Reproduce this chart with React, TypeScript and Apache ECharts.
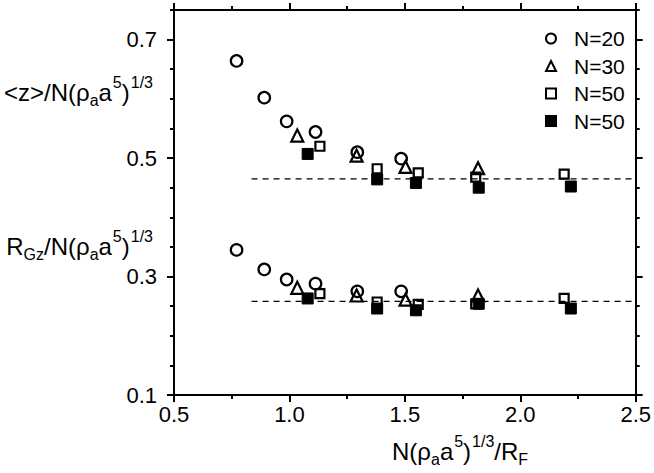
import React, { useEffect, useRef } from "react";
import * as echarts from "echarts";

// ---- data ----
const seriesLabels = ["N=20", "N=30", "N=50", "N=50"];

const xN20 = [0.771, 0.891, 0.988, 1.113, 1.294, 1.484];
const zN20 = [0.664, 0.602, 0.562, 0.544, 0.51, 0.499];
const rN20 = [0.345, 0.312, 0.295, 0.288, 0.275, 0.275];

const xN30 = [1.034, 1.291, 1.503, 1.817];
const zN30 = [0.538, 0.504, 0.485, 0.483];
const rN30 = [0.281, 0.268, 0.261, 0.268];

const xN50open = [1.132, 1.38, 1.558, 1.807, 2.19];
const zN50open = [0.52, 0.482, 0.475, 0.468, 0.473];
const rN50open = [0.271, 0.257, 0.253, 0.254, 0.263];

const xN50fill = [1.079, 1.38, 1.548, 1.82, 2.219];
const zN50fill = [0.507, 0.464, 0.458, 0.45, 0.452];
const rN50fill = [0.263, 0.246, 0.243, 0.254, 0.246];

const plateauLevels = [0.465, 0.258];
const plateauStart = 0.836;

const xMin = 0.5;
const xMax = 2.5;
const xMinorStep = 0.25;
const xMajorTicks = [0.5, 1.0, 1.5, 2.0, 2.5];

const yMin = 0.1;
const yMax = 0.75;
const yMinorStep = 0.05;
const yMajorTicks = [0.1, 0.3, 0.5, 0.7];

const FONT = "'Liberation Sans', Arial, Helvetica, sans-serif";

function pairs(xs: number[], ys: number[]) {
  return xs.map((x, i) => [x, ys[i]]);
}

export default function App() {
  const ref = useRef<HTMLDivElement>(null);

  useEffect(() => {
    if (!ref.current) return;
    const chart = echarts.init(ref.current, null, { renderer: "svg" });

    const axisLine = { show: true, onZero: false, lineStyle: { color: "#000", width: 2 } };
    const tickLine = { color: "#000", width: 2 };
    const labelStyle = { color: "#000", fontSize: 22, fontFamily: FONT };

    const xMinorAxis = (pos: string) => ({
      type: "value",
      position: pos,
      min: xMin,
      max: xMax,
      interval: xMinorStep,
      axisLine,
      axisTick: { show: true, inside: false, length: 4, lineStyle: tickLine },
      axisLabel: { show: false },
      splitLine: { show: false },
    });
    const xMajorAxis = (pos: string, labels: boolean) => ({
      type: "value",
      position: pos,
      min: xMin,
      max: xMax,
      interval: xMinorStep,
      axisLine,
      axisTick: { show: true, inside: false, length: 7, customValues: xMajorTicks, lineStyle: tickLine },
      axisLabel: {
        show: labels,
        customValues: xMajorTicks,
        formatter: (v: number) => v.toFixed(1),
        ...labelStyle,
        margin: 8,
      },
      splitLine: { show: false },
    });
    const yMinorAxis = (pos: string) => ({
      type: "value",
      position: pos,
      min: yMin,
      max: yMax,
      interval: yMinorStep,
      axisLine,
      axisTick: { show: true, inside: false, length: 4, lineStyle: tickLine },
      axisLabel: { show: false },
      splitLine: { show: false },
    });
    const yMajorAxis = (pos: string, labels: boolean) => ({
      type: "value",
      position: pos,
      min: yMin,
      max: yMax,
      interval: yMinorStep,
      axisLine,
      axisTick: { show: true, inside: false, length: 7, customValues: yMajorTicks, lineStyle: tickLine },
      axisLabel: {
        show: labels,
        customValues: yMajorTicks,
        formatter: (v: number) => v.toFixed(1),
        ...labelStyle,
        margin: 17,
      },
      splitLine: { show: false },
    });

    const openStyle = { color: "transparent", borderColor: "#000", borderWidth: 2.2, opacity: 1 };

    const dashSeries = plateauLevels.map((lvl, i) => ({
      type: "line",
      name: "plateau" + i,
      data: [
        [plateauStart, lvl],
        [xMax, lvl],
      ],
      symbol: "none",
      silent: true,
      z: 1,
      lineStyle: { color: "#000", width: 1.3, type: [6, 5], opacity: 1 },
    }));

    const rich = {
      n: { fontSize: 24, fontFamily: FONT, color: "#000" },
      sup: { fontSize: 16, fontFamily: FONT, color: "#000", padding: [0, 0, 19, 1] },
      sub: { fontSize: 16, fontFamily: FONT, color: "#000", padding: [16, 0, 0, 0] },
    };

    chart.setOption({
      animation: false,
      backgroundColor: "#fff",
      grid: { left: 174, right: 18, top: 10, bottom: 78, containLabel: false },
      xAxis: [xMinorAxis("bottom"), xMajorAxis("bottom", true), xMinorAxis("top"), xMajorAxis("top", false)],
      yAxis: [yMinorAxis("left"), yMajorAxis("left", true), yMinorAxis("right"), yMajorAxis("right", false)],
      legend: {
        data: ["s0", "s1", "s2", "s3"],
        orient: "vertical",
        left: 540,
        top: 23,
        itemWidth: 10,
        itemHeight: 10,
        itemGap: 6.5,
        formatter: (name: string) => seriesLabels[Number(name.slice(1))],
        textStyle: { fontSize: 21, fontFamily: FONT, color: "#000", lineHeight: 21, padding: [0, 0, 0, 13] },
        selectedMode: false,
      },
      series: [
        ...dashSeries,
        {
          type: "scatter",
          name: "s0",
          symbol: "circle",
          symbolSize: 11.5,
          itemStyle: openStyle,
          z: 3,
          data: [...pairs(xN20, zN20), ...pairs(xN20, rN20)],
        },
        {
          type: "scatter",
          name: "s1",
          symbol: "triangle",
          symbolSize: 12,
          itemStyle: openStyle,
          z: 3,
          data: [...pairs(xN30, zN30), ...pairs(xN30, rN30)],
        },
        {
          type: "scatter",
          name: "s2",
          symbol: "rect",
          symbolSize: 9,
          itemStyle: openStyle,
          z: 3,
          data: [...pairs(xN50open, zN50open), ...pairs(xN50open, rN50open)],
        },
        {
          type: "scatter",
          name: "s3",
          symbol: "rect",
          symbolSize: 11,
          itemStyle: { color: "#000", borderColor: "#000", borderWidth: 1, opacity: 1 },
          z: 2,
          data: [...pairs(xN50fill, zN50fill), ...pairs(xN50fill, rN50fill)],
        },
      ],
      graphic: [
        {
          type: "text",
          x: 153,
          y: 92,
          style: {
            text: "{n|<z>/N(ρ}{sub|a}{n|a}{sup|5}{n|)}{sup|1/3}",
            rich,
            align: "right",
            verticalAlign: "middle",
          },
        },
        {
          type: "text",
          x: 153,
          y: 246,
          style: {
            text: "{n|R}{sub|Gz}{n|/N(ρ}{sub|a}{n|a}{sup|5}{n|)}{sup|1/3}",
            rich,
            align: "right",
            verticalAlign: "middle",
          },
        },
        {
          type: "text",
          x: 392,
          y: 451,
          style: {
            text: "{n|N(ρ}{sub|a}{n|a}{sup|5}{n|)}{sup|1/3}{n|/R}{sub|F}",
            rich,
            align: "left",
            verticalAlign: "middle",
          },
        },
      ],
    });

    return () => chart.dispose();
  }, []);

  return (
    <div
      ref={ref}
      style={{ position: "fixed", left: 0, top: 0, width: 654, height: 473, background: "#fff" }}
    />
  );
}
